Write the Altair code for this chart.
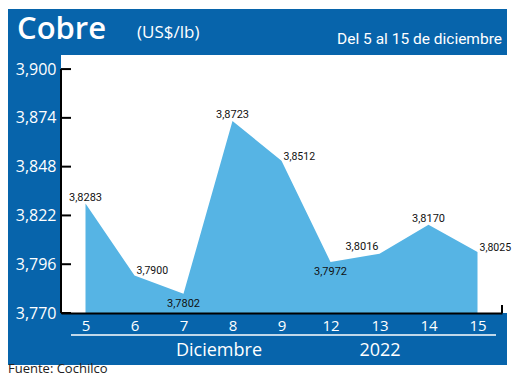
import altair as alt
import pandas as pd

# ---- data ----
dias = ["5", "6", "7", "8", "9", "12", "13", "14", "15"]
precios = [3.8283, 3.7900, 3.7802, 3.8723, 3.8512, 3.7972, 3.8016, 3.8170, 3.8025]
etiquetas = ["3,8283", "3,7900", "3,7802", "3,8723", "3,8512", "3,7972", "3,8016", "3,8170", "3,8025"]
y_ticks = [3.770, 3.796, 3.822, 3.848, 3.874, 3.900]
titulo = "Cobre"
unidad = "(US$/lb)"
periodo = "Del 5 al 15 de diciembre"
mes = "Diciembre"
anio = "2022"
fuente = "Fuente: Cochilco"

# label placement groups
arriba = ["5", "8", "14"]
derecha = ["6", "9", "15"]
abajo = ["7", "12"]
izquierda = ["13"]

df = pd.DataFrame({"dia": dias, "precio": precios, "etiqueta": etiquetas})
tdf = pd.DataFrame({"precio": y_ticks})
adf = pd.DataFrame({"a": [y_ticks[0]], "b": [y_ticks[-1]]})
one = pd.DataFrame({"k": [0]})

# ---- style ----
W, H = 441, 258
BLUE = "#0764ab"
AREA = "#56b4e4"
FONT = "Open Sans"
NARROW = "Roboto"

xaxis = alt.Axis(title=None, labelAngle=0, labelColor="white", labelFont=FONT,
                 labelFontSize=15, ticks=False, domainColor="black", domainWidth=2,
                 labelPadding=5, grid=False, zindex=1)
xenc = alt.X("dia:N", sort=dias, scale=alt.Scale(type="point", padding=0.5), axis=xaxis)
yscale = alt.Scale(domain=[3.770, 3.9075], nice=False, zero=False)
yaxis = alt.Axis(title=None, values=y_ticks,
                 labelExpr="replace(format(datum.value, '.3f'), '.', ',')",
                 labelColor="white", labelFont=FONT, labelFontSize=16, ticks=False,
                 domain=False, grid=False, labelPadding=5, labelOverlap=False, zindex=1)
yenc = alt.Y("precio:Q", scale=yscale, axis=yaxis)

# ---- decorations ----
blue_bg = alt.Chart(one).mark_rect(color=BLUE).encode(
    x=alt.value(-53), x2=alt.value(446), y=alt.value(-46), y2=alt.value(310))
white_bg = alt.Chart(one).mark_rect(color="white").encode(
    x=alt.value(0), x2=alt.value(446), y=alt.value(0), y2=alt.value(H))

area = alt.Chart(df).mark_area(color=AREA, opacity=1).encode(
    x=xenc, y=yenc, y2=alt.datum(3.770))

tick_rules = alt.Chart(tdf).mark_rule(color="black", strokeWidth=2).encode(
    y=yenc, x=alt.value(0), x2=alt.value(10))
yline = alt.Chart(adf).mark_rule(color="black", strokeWidth=2).encode(
    y=alt.Y("a:Q", scale=yscale, axis=yaxis), y2="b:Q", x=alt.value(0))
right_tick = alt.Chart(one).mark_rule(color="black", strokeWidth=2).encode(
    x=alt.value(W), y=alt.value(H - 8), y2=alt.value(H))


def labels(group, size=11, **kw):
    return alt.Chart(df).transform_filter(
        alt.FieldOneOfPredicate(field="dia", oneOf=group)
    ).mark_text(font=NARROW, fontSize=size, color="#111111", **kw).encode(
        x=xenc, y=yenc, text="etiqueta:N")


lab_up = labels(arriba, align="center", baseline="alphabetic", dy=-3)
lab_right = labels(derecha, size=10.5, align="left", baseline="alphabetic", dx=2, dy=-1)
lab_down = labels(abajo, align="center", baseline="top", dy=4)
lab_left = labels(izquierda, align="right", baseline="alphabetic", dx=-1, dy=-4)


def texto(t, x, y, size, font=FONT, align="left", color="white", weight="normal"):
    return alt.Chart(one).mark_text(text=t, font=font, fontSize=size, color=color,
                                    align=align, baseline="alphabetic",
                                    fontWeight=weight).encode(
        x=alt.value(x), y=alt.value(y))


t_title = texto(titulo, -44, -16, 31, weight=600)
t_unit = texto(unidad, 76, -17, 17)
t_period = texto(periodo, 441, -11, 15.5, font=NARROW, align="right")
underline = alt.Chart(one).mark_rule(color="white", strokeWidth=1.5).encode(
    x=alt.value(10), x2=alt.value(435), y=alt.value(280))
t_mes = texto(mes, 158, 301, 18, align="center")
t_anio = texto(anio, 319, 301, 18, align="center")
t_fuente = texto(fuente, -53, 318, 13, color="#222222")

chart = alt.layer(
    blue_bg, white_bg, area, tick_rules, yline, right_tick,
    lab_up, lab_right, lab_down, lab_left,
    t_title, t_unit, t_period, underline, t_mes, t_anio, t_fuente,
).properties(
    width=W, height=H,
    autosize=alt.AutoSizeParams(type="none"),
    padding={"left": 53, "top": 47, "right": 10, "bottom": 63},
    background="white",
).configure_view(stroke=None)

chart.save("out.html", embed_options={"renderer": "svg", "actions": False})
